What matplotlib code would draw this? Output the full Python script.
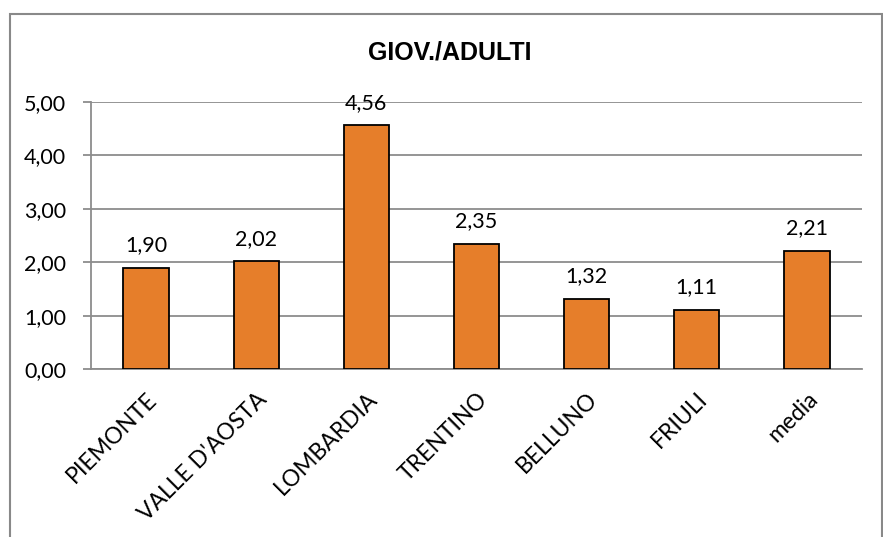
import numpy as np
import matplotlib.pyplot as plt
from matplotlib.patches import Rectangle

regioni = ['PIEMONTE', "VALLE D'AOSTA", 'LOMBARDIA', 'TRENTINO', 'BELLUNO', 'FRIULI', 'media']
valori = [1.90, 2.02, 4.56, 2.35, 1.32, 1.11, 2.21]
y_ticks = [0, 1, 2, 3, 4, 5]

sans = ['Liberation Sans', 'DejaVu Sans']
cal = ['Lato', 'DejaVu Sans']

fig = plt.figure(figsize=(8.83, 5.37), dpi=100)
ax = fig.add_axes([91/883, 1-369/537, (862-91)/883, (369-102)/537])

# chart border (bottom is cut off in the original)
fig.patches.append(Rectangle((10/883, -0.05), (882-10)/883, 1.05-14/537,
                             transform=fig.transFigure, fill=False,
                             edgecolor='#898989', linewidth=1.5))

x = np.arange(len(regioni))
ax.bar(x, valori, width=0.41, color='#E67E2A', edgecolor='black', linewidth=1.3, zorder=3)

for xi, v in zip(x, valori):
    ax.annotate(f'{v:.2f}'.replace('.', ','), xy=(xi, v), xytext=(0, 9),
                textcoords='offset points', ha='center', va='bottom',
                fontsize=15.5, family=cal)

ax.set_xlim(-0.5, len(regioni) - 0.5)
ax.set_ylim(0, 5)
ax.set_yticks(y_ticks)
ax.set_yticklabels([f'{t:.2f}'.replace('.', ',') for t in y_ticks], family=cal, fontsize=15.5)
ax.yaxis.grid(True, color='#8c8c8c', linewidth=1.3, zorder=0)
ax.set_axisbelow(True)

ax.set_xticks(x)
ax.set_xticklabels(regioni, rotation=45, ha='right', rotation_mode='anchor',
                   fontsize=16.5, family=cal)
ax.tick_params(axis='x', length=0, pad=14)
ax.tick_params(axis='y', length=6, color='#8c8c8c', width=1.3, pad=12)

for s in ['top', 'right']:
    ax.spines[s].set_visible(False)
for s in ['left', 'bottom']:
    ax.spines[s].set_color('#8c8c8c')
    ax.spines[s].set_linewidth(1.3)

fig.text(450/883, 1-52/537, 'GIOV./ADULTI', ha='center', va='center',
         fontsize=18, fontweight='bold', family=sans)

fig.savefig('out.png', dpi=100)
